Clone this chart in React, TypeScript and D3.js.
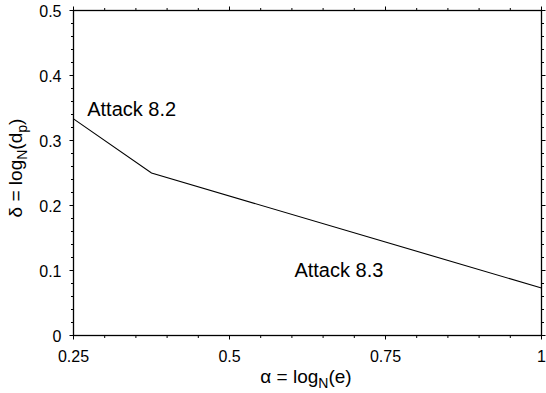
import React from "react";
import * as d3 from "d3";

const alphaValues = [0.25, 0.375, 1.0];
const deltaValues = [0.3333, 0.25, 0.073];
const xMajorTicks = [0.25, 0.5, 0.75, 1];
const xTickLabels = ["0.25", "0.5", "0.75", "1"];
const yMajorTicks = [0, 0.1, 0.2, 0.3, 0.4, 0.5];
const yTickLabels = ["0", "0.1", "0.2", "0.3", "0.4", "0.5"];
const annotations = [
  { text: "Attack 8.2", a: 0.272, d: 0.338 },
  { text: "Attack 8.3", a: 0.604, d: 0.09 },
];

const W = 546;
const H = 393;
const left = 73.5, right = 541.5, top = 10.5, bottom = 335.5;
const font = "'Liberation Sans', Arial, Helvetica, sans-serif";

export default function App() {
  const x = d3.scaleLinear().domain([0.25, 1]).range([left, right]);
  const y = d3.scaleLinear().domain([0, 0.5]).range([bottom, top]);
  const xMinor = d3.range(0, 16).map((i) => 0.25 + i * 0.05).filter((v) => v <= 1.0001);
  const yMinor = d3.range(0, 26).map((i) => i * 0.02).filter((v) => v <= 0.5001);
  const pts: [number, number][] = alphaValues.map((a, i) => [a, deltaValues[i]]);
  const line = d3.line<[number, number]>().x((d) => x(d[0])).y((d) => y(d[1]));
  const isMajorX = (v: number) => xMajorTicks.some((m) => Math.abs(m - v) < 1e-6);
  const isMajorY = (v: number) => yMajorTicks.some((m) => Math.abs(m - v) < 1e-6);

  return (
    <svg width={W} height={H} style={{ position: "absolute", left: 0, top: 0, background: "#fff" }}>
      <rect x={0} y={0} width={W} height={H} fill="#fff" />
      {/* ticks */}
      {xMinor.map((v, i) => {
        const len = isMajorX(v) ? 4 : 2.5;
        return (
          <g key={"xt" + i} stroke="#000" strokeWidth={1}>
            <line x1={x(v)} x2={x(v)} y1={bottom} y2={bottom + len} />
            <line x1={x(v)} x2={x(v)} y1={top} y2={top - len} />
          </g>
        );
      })}
      {yMinor.map((v, i) => {
        const len = isMajorY(v) ? 4 : 2.5;
        return (
          <g key={"yt" + i} stroke="#000" strokeWidth={1}>
            <line x1={left} x2={left - len} y1={y(v)} y2={y(v)} />
            <line x1={right} x2={right + len} y1={y(v)} y2={y(v)} />
          </g>
        );
      })}
      <rect x={left} y={top} width={right - left} height={bottom - top} fill="none" stroke="#000" strokeWidth={1.3} />
      <path d={line(pts) || ""} fill="none" stroke="#000" strokeWidth={1.1} />
      {xMajorTicks.map((v, i) => (
        <text key={"xl" + i} x={x(v)} y={bottom + 26.5} fontFamily={font} fontSize={16} textAnchor="middle" fill="#000">
          {xTickLabels[i]}
        </text>
      ))}
      {yMajorTicks.map((v, i) => (
        <text key={"yl" + i} x={left - 12} y={y(v) + 6} fontFamily={font} fontSize={16} textAnchor="end" fill="#000">
          {yTickLabels[i]}
        </text>
      ))}
      {annotations.map((a, i) => (
        <text key={"an" + i} x={x(a.a)} y={y(a.d)} fontFamily={font} fontSize={20} fill="#000">
          {a.text}
        </text>
      ))}
      <text x={306} y={383} fontFamily={font} fontSize={19} textAnchor="middle" fill="#000">
        {"α = log"}
        <tspan fontSize={14} dy={5}>N</tspan>
        <tspan dy={-5}>(e)</tspan>
      </text>
      <text transform={`translate(22,168) rotate(-90)`} fontFamily={font} fontSize={19} textAnchor="middle" fill="#000">
        {"δ = log"}
        <tspan fontSize={14} dy={5}>N</tspan>
        <tspan dy={-5}>(d</tspan>
        <tspan fontSize={14} dy={5}>p</tspan>
        <tspan dy={-5}>)</tspan>
      </text>
    </svg>
  );
}
